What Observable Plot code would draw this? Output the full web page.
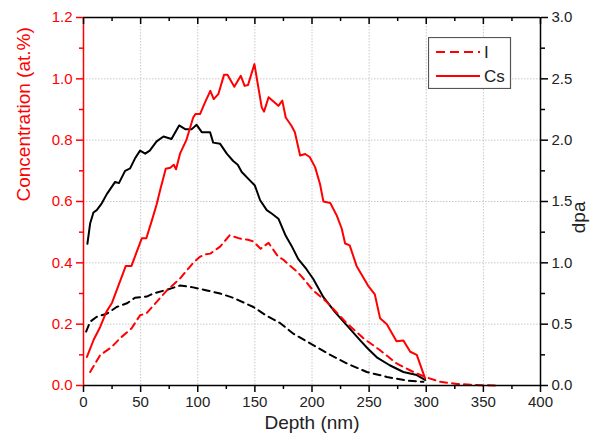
<!DOCTYPE html>
<html>
<head>
<meta charset="utf-8">
<script src="https://cdn.jsdelivr.net/npm/d3@7"></script>
<script src="https://cdn.jsdelivr.net/npm/@observablehq/plot@0.6"></script>
<style>
  body { margin: 0; background: #fff; }
  #wrap { position: relative; width: 594px; height: 444px; font-family: Arial, "Liberation Sans", sans-serif; }
  #legend { position: absolute; left: 428px; top: 37px; }
</style>
</head>
<body>
<div id="wrap"></div>
<script>
// ---- Data ----
// Cs concentration (at.%) vs depth (nm)
const csDepth = [3, 9, 14.5, 20, 25, 30, 35, 37, 42, 46, 51, 55, 60, 64, 67, 72, 76, 79, 81, 84.5, 90, 96, 98, 102, 106, 111, 114, 118, 123, 126, 132, 137.7, 141, 144, 149.6, 156, 158, 162, 170.6, 174, 177, 182, 185, 189.6, 194, 198, 202.7, 207, 210, 216, 221.7, 226, 229, 233, 239, 249, 255, 259.6, 265.5, 274, 280, 286, 291.7, 299];
const csConc  = [0.093, 0.15, 0.19, 0.24, 0.27, 0.32, 0.37, 0.39, 0.39, 0.43, 0.48, 0.48, 0.54, 0.59, 0.636, 0.707, 0.71, 0.72, 0.705, 0.756, 0.80, 0.874, 0.885, 0.885, 0.92, 0.961, 0.934, 0.95, 1.013, 1.013, 0.974, 1.01, 0.977, 0.98, 1.048, 0.907, 0.893, 0.94, 0.912, 0.929, 0.874, 0.847, 0.826, 0.75, 0.755, 0.745, 0.712, 0.657, 0.60, 0.595, 0.554, 0.512, 0.463, 0.457, 0.39, 0.326, 0.297, 0.219, 0.2, 0.144, 0.147, 0.11, 0.1, 0.023];

// I concentration (at.%) vs depth (nm)
const iDepth = [5.8, 14.5, 24.8, 32, 42, 49.5, 55, 62.7, 73, 84.5, 96, 102, 106, 111, 119.6, 128, 137, 144, 148.5, 155, 162, 170, 175, 181, 186.7, 191, 201, 213, 230.5, 245, 259.6, 274, 288.8, 299, 312, 326.7, 341, 361.7];
const iConc  = [0.044, 0.099, 0.126, 0.154, 0.186, 0.229, 0.235, 0.267, 0.31, 0.349, 0.40, 0.42, 0.427, 0.43, 0.453, 0.49, 0.479, 0.475, 0.47, 0.446, 0.465, 0.422, 0.41, 0.39, 0.372, 0.355, 0.31, 0.272, 0.203, 0.154, 0.115, 0.072, 0.044, 0.028, 0.012, 0.005, 0.002, 0.0];

// dpa (Cs irradiation) vs depth (nm)
const dpaCsDepth = [3.4, 5.8, 8.7, 11.6, 16, 20.4, 27.7, 31, 36.4, 40.8, 45, 49.5, 54, 58, 64, 70, 77, 83.7, 89, 94.8, 99, 103.5, 110.8, 113.5, 119.6, 125.4, 131, 135, 138.5, 145.8, 150, 154.6, 160.4, 165, 170.6, 177, 182, 188, 195, 201, 210, 220, 230.5, 242, 249, 256.7, 268, 280, 291.7, 299];
const dpaCs      = [1.155, 1.32, 1.41, 1.43, 1.485, 1.56, 1.66, 1.65, 1.75, 1.77, 1.85, 1.915, 1.89, 1.915, 1.99, 2.03, 2.01, 2.12, 2.09, 2.09, 2.125, 2.065, 2.065, 1.98, 1.97, 1.89, 1.83, 1.80, 1.74, 1.67, 1.63, 1.51, 1.43, 1.40, 1.36, 1.22, 1.14, 1.03, 0.95, 0.87, 0.72, 0.60, 0.49, 0.37, 0.30, 0.23, 0.165, 0.11, 0.085, 0.045];

// dpa (I irradiation) vs depth (nm)
const dpaIDepth = [2.3, 5.8, 11.6, 20.4, 29, 38, 45, 55.4, 61, 73, 84.5, 96, 108, 119.6, 131, 148.7, 160, 172, 184, 201, 216, 230.5, 248, 265.5, 283, 297.5];
const dpaI      = [0.44, 0.52, 0.56, 0.585, 0.64, 0.67, 0.715, 0.725, 0.75, 0.78, 0.815, 0.80, 0.775, 0.75, 0.715, 0.64, 0.57, 0.51, 0.42, 0.33, 0.25, 0.18, 0.11, 0.07, 0.04, 0.03];

// Ticks
const xMajor = [0, 50, 100, 150, 200, 250, 300, 350, 400];
const xMinor = [25, 75, 125, 175, 225, 275, 325, 375];
const yMajor = [0, 0.2, 0.4, 0.6, 0.8, 1.0, 1.2];
const yMinor = [0.1, 0.3, 0.5, 0.7, 0.9, 1.1];
const dpaPerConc = 2.5; // right axis 0–3.0 over left axis 0–1.2

const cs = csDepth.map((d, i) => ({x: d, y: csConc[i]}));
const iso = iDepth.map((d, i) => ({x: d, y: iConc[i]}));
const dCs = dpaCsDepth.map((d, i) => ({x: d, y: dpaCs[i]}));
const dI = dpaIDepth.map((d, i) => ({x: d, y: dpaI[i]}));

const RED = "#ff0000";
const font = 'Arial, "Liberation Sans", sans-serif';
const blank = () => "";

const chart = Plot.plot({
  width: 594,
  height: 444,
  marginLeft: 83,
  marginRight: 54,
  marginTop: 17,
  marginBottom: 59,
  style: {fontFamily: font, fontSize: "15px", background: "#fff", overflow: "visible"},
  x: {domain: [0, 400]},
  y: {domain: [0, 1.2]},
  marks: [
    Plot.gridX(xMajor.slice(1, -1), {stroke: "#c8c8c8", strokeOpacity: 1, strokeDasharray: "1.5,1.5"}),
    Plot.gridY(yMajor.slice(1, -1), {stroke: "#c8c8c8", strokeOpacity: 1, strokeDasharray: "1.5,1.5"}),

    // data
    Plot.line(dI, {x: "x", y: d => d.y / dpaPerConc, stroke: "#000", strokeWidth: 2, strokeDasharray: "7,5"}),
    Plot.line(dCs, {x: "x", y: d => d.y / dpaPerConc, stroke: "#000", strokeWidth: 2}),
    Plot.line(iso, {x: "x", y: "y", stroke: RED, strokeWidth: 2, strokeDasharray: "7,5"}),
    Plot.line(cs, {x: "x", y: "y", stroke: RED, strokeWidth: 2}),

    // frame
    Plot.ruleY([1.2], {stroke: "#000", strokeWidth: 1.5}),
    Plot.ruleY([0], {stroke: "#000", strokeWidth: 1.5}),
    Plot.ruleX([400], {stroke: "#000", strokeWidth: 1.5}),
    Plot.ruleX([0], {stroke: RED, strokeWidth: 1.5}),

    // bottom axis
    Plot.axisX({ticks: xMajor, tickSize: 7, tickPadding: 4, tickFormat: d3.format("d"), fill: "#222", stroke: "#000", strokeWidth: 1.5, label: null, fontSize: 15}),
    Plot.axisX({ticks: xMinor, tickSize: 4, tickFormat: blank, stroke: "#000", strokeWidth: 1.5, label: null}),
    // top axis (inward ticks, no labels)
    Plot.ruleX(xMajor, {x: d => d, y1: 1.2, y2: 1.2 - 7 / 307, stroke: "#000", strokeWidth: 1.5}),
    Plot.ruleX(xMinor, {x: d => d, y1: 1.2, y2: 1.2 - 4 / 307, stroke: "#000", strokeWidth: 1.5}),

    // left axis (concentration, red)
    Plot.axisY({ticks: yMajor, tickSize: 7, tickPadding: 4, tickFormat: d3.format(".1f"), fill: RED, stroke: RED, strokeWidth: 1.5, label: null, fontSize: 15}),
    Plot.axisY({ticks: yMinor, tickSize: 4, tickFormat: blank, stroke: RED, strokeWidth: 1.5, label: null}),
    // right axis (dpa)
    Plot.axisY({anchor: "right", ticks: yMajor, tickSize: 7, tickPadding: 4, tickFormat: d => (d * dpaPerConc).toFixed(1), fill: "#222", stroke: "#000", strokeWidth: 1.5, label: null, fontSize: 15}),
    Plot.axisY({anchor: "right", ticks: yMinor, tickSize: 4, tickFormat: blank, stroke: "#000", strokeWidth: 1.5, label: null}),

    // axis titles
    Plot.text(["Concentration (at.%)"], {frameAnchor: "left", dx: -60, rotate: -90, text: d => d, fill: RED, fontSize: 19}),
    Plot.text(["dpa"], {frameAnchor: "right", dx: 38, rotate: -90, text: d => d, fill: "#222", fontSize: 19}),
    Plot.text(["Depth (nm)"], {frameAnchor: "bottom", dy: 43, text: d => d, fill: "#222", fontSize: 19})
  ]
});

const wrap = document.getElementById("wrap");
wrap.appendChild(chart);

// legend (inside the plot, upper right)
const legendItems = [
  {label: "I", dash: "9,5"},
  {label: "Cs", dash: null}
];
const ns = "http://www.w3.org/2000/svg";
const lg = document.createElementNS(ns, "svg");
lg.setAttribute("id", "legend");
lg.setAttribute("width", 84);
lg.setAttribute("height", 52);
const box = document.createElementNS(ns, "rect");
box.setAttribute("x", 0.5); box.setAttribute("y", 0.5);
box.setAttribute("width", 82); box.setAttribute("height", 51);
box.setAttribute("fill", "#fff"); box.setAttribute("stroke", "#555"); box.setAttribute("stroke-width", 1.2);
lg.appendChild(box);
legendItems.forEach((it, i) => {
  const yy = 15 + i * 24;
  const ln = document.createElementNS(ns, "line");
  ln.setAttribute("x1", 8); ln.setAttribute("x2", 52);
  ln.setAttribute("y1", yy); ln.setAttribute("y2", yy);
  ln.setAttribute("stroke", RED); ln.setAttribute("stroke-width", 2);
  if (it.dash) ln.setAttribute("stroke-dasharray", it.dash);
  lg.appendChild(ln);
  const tx = document.createElementNS(ns, "text");
  tx.setAttribute("x", 56); tx.setAttribute("y", yy + 6);
  tx.setAttribute("font-family", font); tx.setAttribute("font-size", 17);
  tx.setAttribute("fill", "#222");
  tx.textContent = it.label;
  lg.appendChild(tx);
});
wrap.appendChild(lg);
</script>
</body>
</html>
